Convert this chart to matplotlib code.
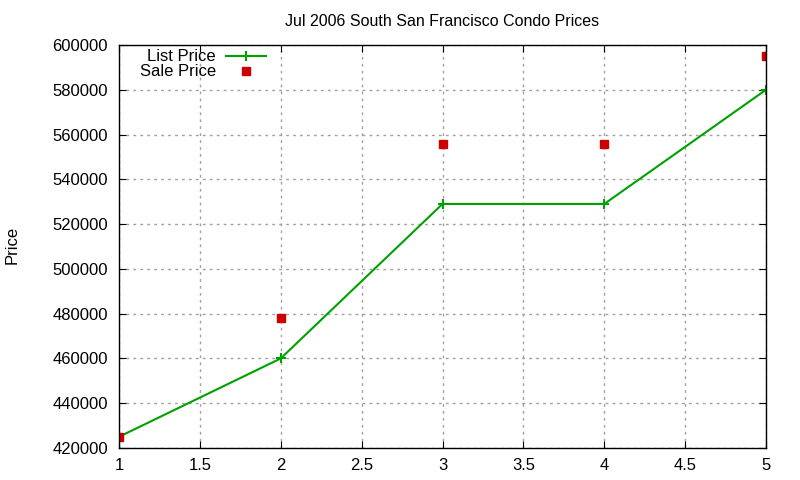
import matplotlib
matplotlib.use("Agg")
import matplotlib.pyplot as plt

# data
x_vals = [1, 2, 3, 4, 5]
list_price = [425000, 460000, 529000, 529000, 580000]
sale_price = [425000, 478000, 556000, 556000, 595000]

plt.rcParams['font.family'] = ['Liberation Sans', 'DejaVu Sans']

fig = plt.figure(figsize=(8, 4.8), dpi=100)
ax = fig.add_axes([0.14875, 0.0667, 0.80875, 0.83955])

ax.plot(x_vals, list_price, color='#00a000', linewidth=1.5, marker='+',
        markersize=7, markeredgewidth=1.5, label='List Price')
ax.plot(x_vals, sale_price, color='#cc0000', linestyle='none', marker='s',
        markersize=6, label='Sale Price')

ax.set_xlim(1, 5)
ax.set_ylim(420000, 600000)
ax.set_xticks([1, 1.5, 2, 2.5, 3, 3.5, 4, 4.5, 5])
ax.set_xticklabels(['1', '1.5', '2', '2.5', '3', '3.5', '4', '4.5', '5'])
ax.set_yticks(range(420000, 600001, 20000))

ax.grid(True, color='#a0a0a0', linestyle=(0, (2, 3)), linewidth=1)
ax.tick_params(direction='in', top=True, right=True, labelsize=12, length=5)
ax.tick_params(axis='x', pad=7)
ax.tick_params(axis='y', pad=8)
for s in ax.spines.values():
    s.set_linewidth(1)

ax.set_title('Jul 2006 South San Francisco Condo Prices', fontsize=11.5, pad=14)
fig.text(0.015, 0.49, 'Price', rotation=90, fontsize=12, va='center', ha='center')

ax.legend(loc='upper left', bbox_to_anchor=(0.014, 1.018), frameon=False,
          markerfirst=False, fontsize=12, handlelength=2.4, labelspacing=0.0,
          borderaxespad=0.3, handletextpad=0.6)
leg = ax.get_legend()
for t in leg.get_texts():
    t.set_ha('right')

fig.savefig('out.png')
